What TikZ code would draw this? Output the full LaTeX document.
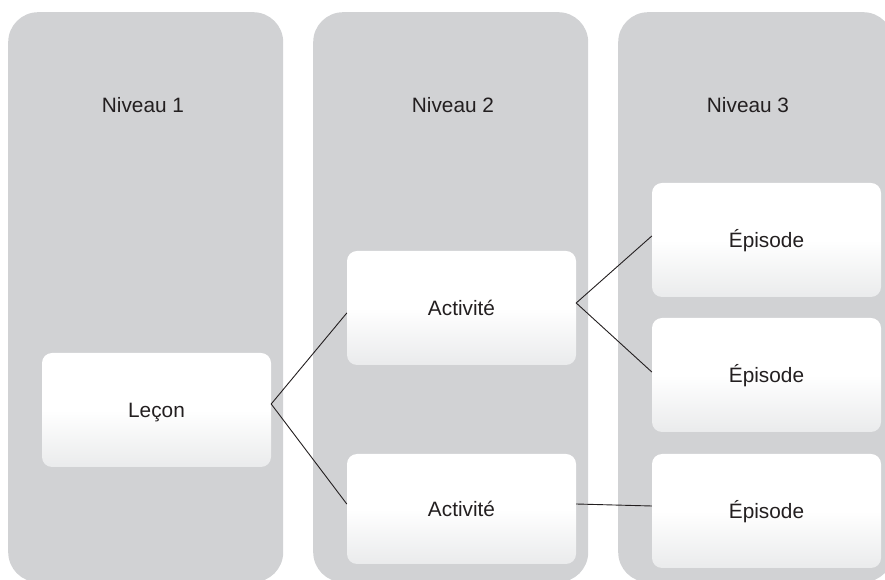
\documentclass[tikz,border=0pt]{standalone}
\usepackage{fontspec}
\setmainfont{Liberation Sans}
\usetikzlibrary{calc}
\definecolor{colgray}{HTML}{D1D2D4}
\definecolor{boxgray}{HTML}{EAEBEC}
\definecolor{txt}{HTML}{231F20}
\tikzset{
  column/.style={draw=none, fill=colgray, rounded corners=30pt, minimum width=275pt, minimum height=570pt, inner sep=0pt},
  levellabel/.style={text=txt, font=\fontsize{20.8}{25}\selectfont, text height=15pt, text depth=0pt, inner sep=0pt},
  itembox/.style={draw=none, rounded corners=10pt, top color=white, bottom color=boxgray, middle color=white,
    minimum width=229pt, minimum height=114pt, inner sep=0pt, text=txt,
    font=\fontsize{20.8}{25}\selectfont, text height=15pt, text depth=0pt},
  link/.style={draw=txt, line width=0.9pt}
}
\begin{document}
\begin{tikzpicture}[x=1pt,y=1pt]
\useasboundingbox (0,0) rectangle (885,580);
\begin{scope}
\clip (0,0) rectangle (885,580);
\node[column, anchor=north west] (col1) at (8,568) {};
\node[column, anchor=north west] (col2) at (313,568) {};
\node[column, anchor=north west] (col3) at (618,568) {};
\end{scope}
\node[levellabel] (n1) at (143,474.5) {Niveau 1};
\node[levellabel] (n2) at (453,474.5) {Niveau 2};
\node[levellabel] (n3) at (748,474.5) {Niveau 3};

\node[itembox] (lecon) at (156.5,170) {Leçon};
\node[itembox] (act1) at (461.5,272) {Activité};
\node[itembox, minimum height=110pt] (act2) at (461.5,71) {Activité};
\node[itembox] (ep1) at (766.5,340) {Épisode};
\node[itembox] (ep2) at (766.5,205) {Épisode};
\node[itembox] (ep3) at (766.5,69) {Épisode};

\draw[link] ([yshift=-5pt]act1.west) -- ([yshift=6pt]lecon.east) -- ([yshift=5pt]act2.west);
\draw[link] ([yshift=4pt]ep1.west) -- ([yshift=5pt]act1.east) -- ([yshift=3pt]ep2.west);
\draw[link] ([yshift=5pt]act2.east) -- ([yshift=5pt]ep3.west);
\end{tikzpicture}
\end{document}
